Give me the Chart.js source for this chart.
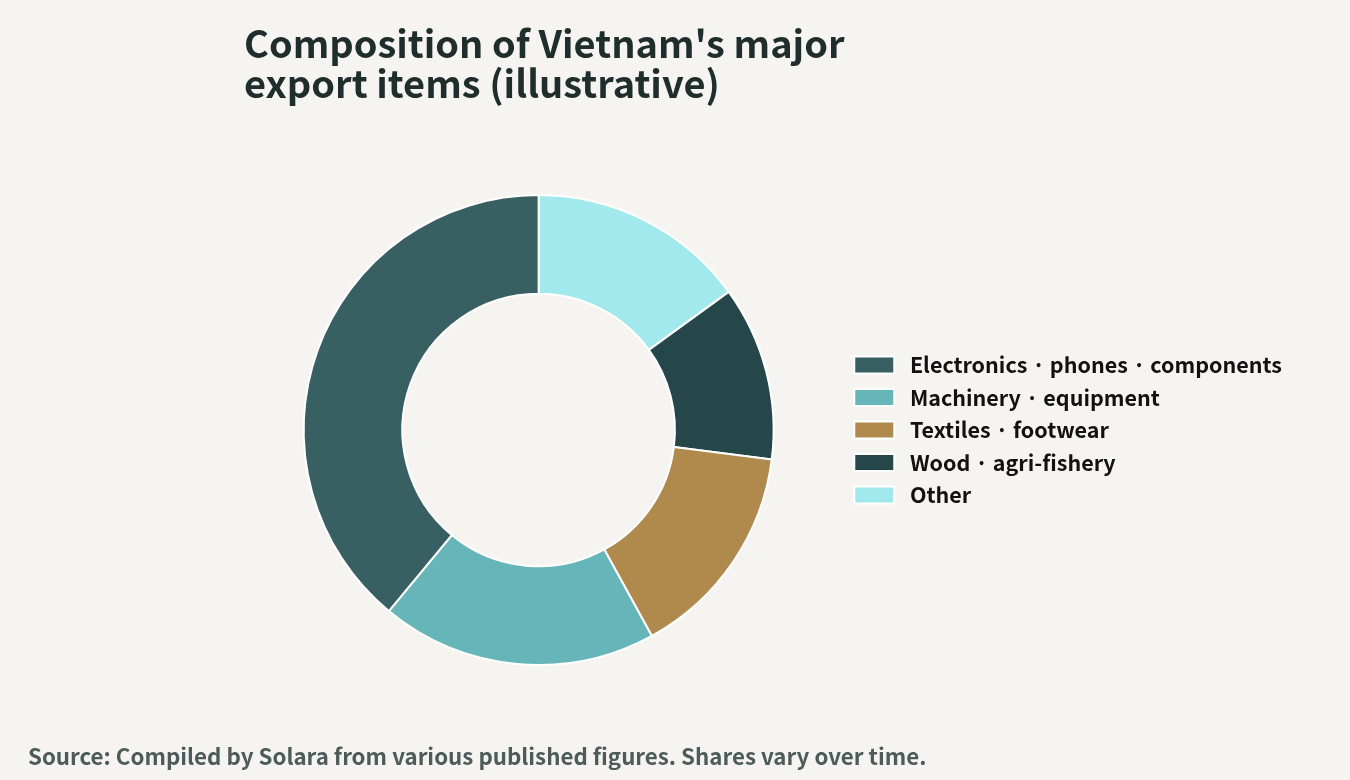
<!DOCTYPE html>
<html>
<head>
<meta charset="utf-8">
<script src="https://cdn.jsdelivr.net/npm/chart.js@4.4.1/dist/chart.umd.min.js"></script>
<style>
  html, body { margin: 0; padding: 0; background: #f5f4f0; }
  body { width: 1350px; height: 780px; position: relative; overflow: hidden; font-family: "Noto Sans CJK JP", "Noto Sans", sans-serif; }
  #title { position: absolute; left: 244px; top: 22px; font-size: 38px; font-weight: 700; line-height: 40px; color: #1f2d2d; }
  #source { position: absolute; left: 28px; top: 739px; font-size: 22.3px; font-weight: 700; color: #4e5b5b; }
  #wrap { position: absolute; left: 0; top: 0; width: 1350px; height: 780px; }
</style>
</head>
<body>
<div id="wrap"><canvas id="c"></canvas></div>
<div id="title">Composition of Vietnam's major<br>export items (illustrative)</div>
<div id="source">Source: Compiled by Solara from various published figures. Shares vary over time.</div>
<script>
const categories = ["Electronics · phones · components", "Machinery · equipment", "Textiles · footwear", "Wood · agri-fishery", "Other"];
const shares = [39, 19, 15, 12, 15];
const colors = ["#386062", "#66b5b9", "#b0894d", "#25474a", "#a2e9ed"];

// The reference lays out segments counter-clockwise from 12 o'clock,
// so feed them reversed and reverse the legend back.
const labelsR = categories.slice().reverse().map(s => ' ' + s);
const sharesR = shares.slice().reverse();
const colorsR = colors.slice().reverse();

new Chart(document.getElementById('c'), {
  type: 'doughnut',
  data: {
    labels: labelsR,
    datasets: [{
      data: sharesR,
      backgroundColor: colorsR,
      borderColor: '#ffffff',
      borderWidth: 2
    }]
  },
  options: {
    responsive: true,
    maintainAspectRatio: false,
    animation: false,
    cutout: '58%',
    layout: { padding: { top: 194, bottom: 114, left: 234, right: 58 } },
    plugins: {
      title: { display: false },
      tooltip: { enabled: false },
      legend: {
        position: 'right',
        reverse: true,
        labels: {
          boxWidth: 40,
          boxHeight: 17,
          padding: 11,
          color: '#111111',
          font: { family: '"Noto Sans CJK JP", "Noto Sans", sans-serif', size: 21.5, weight: 'bold' }
        }
      }
    }
  }
});
</script>
</body>
</html>
